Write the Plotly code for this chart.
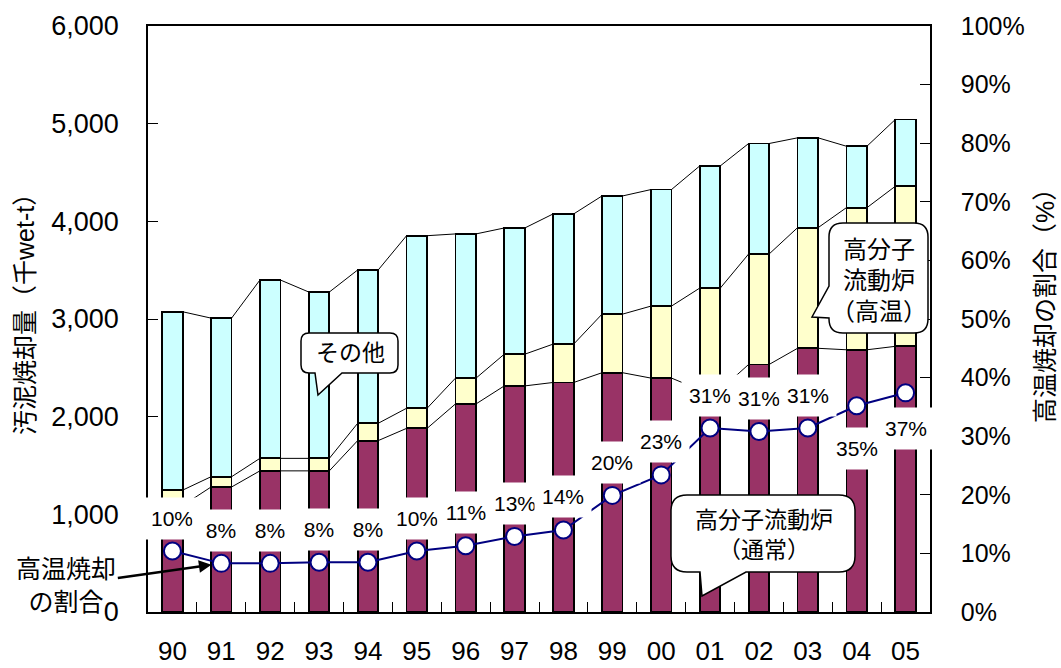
import plotly.graph_objects as go

# ---------------- data ----------------
years = ["90", "91", "92", "93", "94", "95", "96", "97",
         "98", "99", "00", "01", "02", "03", "04", "05"]
fluid_normal = [1090, 1280, 1445, 1445, 1755, 1880, 2130, 2315,
                2350, 2450, 2395, 2275, 2535, 2700, 2685, 2720]
fluid_high = [158, 105, 128, 128, 177, 206, 264, 325,
              393, 600, 737, 1042, 1131, 1235, 1455, 1639]
others = [1826, 1624, 1826, 1703, 1570, 1767, 1477, 1292,
          1333, 1210, 1193, 1251, 1131, 920, 629, 684]
high_ratio = [10.4, 8.3, 8.3, 8.5, 8.5, 10.4, 11.3, 12.9,
              14.0, 19.9, 23.4, 31.4, 30.8, 31.4, 35.2, 37.4]

left_ticks = [0, 1000, 2000, 3000, 4000, 5000, 6000]
right_ticks = [0, 10, 20, 30, 40, 50, 60, 70, 80, 90, 100]

# ---------------- style ----------------
FONT = "Liberation Sans, Arial, Noto Sans CJK JP, sans-serif"
MAROON = "#993366"
YELLOW = "#FFFFCC"
CYAN = "#CCFFFF"
NAVY = "#000080"
BAR_W = 0.42

L, R, T, B = 148, 131, 26, 56
W, H = 1061, 668
PW, PH = W - L - R, H - T - B


def px(x):
    return (x - L) / PW


def py(y):
    return (H - B - y) / PH


n = len(years)
xs = list(range(n))

fig = go.Figure()
for vals, col in [(fluid_normal, MAROON), (fluid_high, YELLOW), (others, CYAN)]:
    fig.add_trace(go.Bar(x=xs, y=vals, width=BAR_W, marker=dict(color=col, line=dict(color="black", width=1.8)),
                         hoverinfo="skip"))

# series lines connecting stack levels between bars
cum1 = fluid_normal
cum2 = [a + b for a, b in zip(fluid_normal, fluid_high)]
cum3 = [a + b + c for a, b, c in zip(fluid_normal, fluid_high, others)]
for cum in (cum1, cum2, cum3):
    lx, ly = [], []
    for i in range(n - 1):
        lx += [i + BAR_W / 2, i + 1 - BAR_W / 2, None]
        ly += [cum[i], cum[i + 1], None]
    fig.add_trace(go.Scatter(x=lx, y=ly, mode="lines", line=dict(color="black", width=1),
                             hoverinfo="skip"))

fig.add_trace(go.Scatter(x=xs, y=high_ratio, yaxis="y2", mode="lines+markers",
                         line=dict(color=NAVY, width=2),
                         marker=dict(size=17, color="white", line=dict(color=NAVY, width=2)),
                         hoverinfo="skip"))

annotations = []
label_shift = [33] * 14 + [-43, -36]
for i, v in enumerate(high_ratio):
    annotations.append(dict(x=i, y=v, xref="x", yref="y2", text=f"{round(v)}%", showarrow=False,
                            xanchor="center", yanchor="middle",
                            bgcolor="white", width=52, height=37, borderpad=2, yshift=label_shift[i],
                            font=dict(size=21, color="black", family=FONT)))


def txt(x, y, text, size, angle=0):
    return dict(x=px(x), y=py(y), xref="paper", yref="paper", text=text, textangle=angle,
                showarrow=False, xanchor="center", yanchor="middle", align="center",
                font=dict(size=size, color="black", family=FONT))


# axis titles
annotations.append(txt(25, 308, "汚泥焼却量（千wet-t）", 25, -90))
annotations.append(txt(1045, 300, "高温焼却の割合（%）", 25, -90))

# arrow label
annotations.append(dict(x=1, y=high_ratio[1], xref="x", yref="y2", text="高温焼却<br>の割合",
                        showarrow=True, ax=-155, ay=22, standoff=10, arrowhead=2, arrowsize=1,
                        arrowwidth=2.5, arrowcolor="black", align="center",
                        font=dict(size=25, color="black", family=FONT)))

# callout texts
annotations.append(txt(350, 353, "その他", 23))
annotations.append(txt(764, 535, "高分子流動炉<br>（通常）", 23))
annotations.append(txt(879, 280, "高分子<br>流動炉<br>（高温）", 24))


def P(x, y):
    return f"{px(x):.5f},{py(y):.5f}"


def callout(x0, y0, x1, y1, r, edge, pts):
    s = [f"M{P(x0 + r, y0)}", f"L{P(x1 - r, y0)}", f"Q{P(x1, y0)} {P(x1, y0 + r)}",
         f"L{P(x1, y1 - r)}", f"Q{P(x1, y1)} {P(x1 - r, y1)}"]
    if edge == "bottom":
        s += [f"L{P(*p)}" for p in pts]
    s += [f"L{P(x0 + r, y1)}", f"Q{P(x0, y1)} {P(x0, y1 - r)}"]
    if edge == "left":
        s += [f"L{P(*p)}" for p in pts]
    s += [f"L{P(x0, y0 + r)}", f"Q{P(x0, y0)} {P(x0 + r, y0)}", "Z"]
    return dict(type="path", xref="paper", yref="paper", path=" ".join(s), fillcolor="white",
                line=dict(color="black", width=1.5), layer="above")


shapes = [
    callout(301, 333, 398, 373, 8, "bottom", [(342, 373), (318, 395), (315, 373)]),
    callout(671, 495, 855, 572, 16, "bottom", [(746, 572), (702, 596), (700, 572)]),
    callout(829, 223, 928, 333, 14, "left", [(829, 318), (812, 317), (829, 286)]),
]

fig.update_layout(
    width=W, height=H, margin=dict(l=L, r=R, t=T, b=B, autoexpand=False),
    barmode="stack", bargap=0.58, showlegend=False,
    plot_bgcolor="white", paper_bgcolor="white",
    font=dict(family=FONT, color="black"),
    xaxis=dict(range=[-0.5, n - 0.5], tickmode="array", tickvals=xs, ticktext=years, ticks="",
               showline=True, linecolor="black", linewidth=1.5, mirror=True, showgrid=False, zeroline=False,
               tickfont=dict(size=26), ticklabelstandoff=15, automargin=False,
               minor=dict(tickmode="array", tickvals=[i + 0.5 for i in range(n - 1)], ticks="inside",
                          ticklen=10, tickcolor="black", tickwidth=1, showgrid=False)),
    yaxis=dict(range=[0, 6000], tickmode="array", tickvals=left_ticks, tickformat=",", ticks="inside",
               ticklen=10, tickcolor="black", showline=True, linecolor="black", linewidth=1.5,
               showgrid=False, zeroline=False, tickfont=dict(size=27), ticklabelstandoff=22,
               automargin=False),
    yaxis2=dict(range=[0, 100], overlaying="y", side="right", tickmode="array", tickvals=right_ticks,
                ticktext=[f"{v}%" for v in right_ticks], ticks="inside", ticklen=10, tickcolor="black",
                showline=True, linecolor="black", linewidth=1.5, showgrid=False, zeroline=False,
                tickfont=dict(size=25), ticklabelstandoff=24, automargin=False),
    annotations=annotations, shapes=shapes,
)

fig.write_html("out.html", config={"displayModeBar": False},
               post_script="document.body.style.margin='0';document.body.style.padding='0';"
                           "document.body.style.overflow='hidden';")
